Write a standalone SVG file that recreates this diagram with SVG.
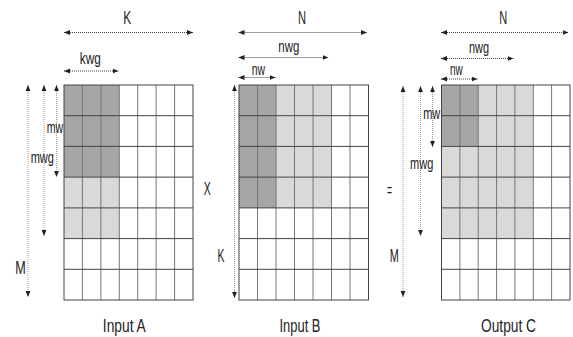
<svg xmlns="http://www.w3.org/2000/svg" width="573" height="337" viewBox="0 0 573 337">
  <defs>
    <marker id="ah" viewBox="0 0 6 6" refX="6" refY="3" markerWidth="6" markerHeight="6" markerUnits="userSpaceOnUse" orient="auto-start-reverse">
      <path d="M0,0.6 L6,3 L0,5.4 z" fill="#222"/>
    </marker>
    <style>
      .bg { fill: #ffffff; }
      .dark { fill: #a6a6a6; }
      .light { fill: #d9d9d9; }
      .hgrid { stroke: #444; stroke-width: 1; fill: none; }
      .vgrid { stroke: #777; stroke-width: 1; fill: none; }
      .dimh { stroke: #444; stroke-width: 1; stroke-dasharray: 1 1; fill: none; marker-start: url(#ah); marker-end: url(#ah); }
      .dimv { stroke: #999; stroke-width: 1; stroke-dasharray: 1 1; fill: none; marker-start: url(#ah); marker-end: url(#ah); }
      text { font-family: "Liberation Sans", Arial, sans-serif; fill: #222; text-anchor: middle; }
      .big { font-size: 18px; }
      .small { font-size: 17px; }
      .cap { font-size: 18px; }
    </style>
  </defs>
  <rect width="573" height="337" fill="#ffffff"/>

  <!-- Matrix A: 7 x 7 tiles, work-group block shaded -->
  <g id="matrix-a">
    <rect class="bg" x="64" y="85" width="129" height="215"/>
    <rect class="dark" x="64" y="85" width="55.3" height="92.1"/>
    <rect class="light" x="64" y="177.1" width="55.3" height="61.5"/>
    <path class="vgrid" d="M82.4,85V300M100.9,85V300M119.3,85V300M137.7,85V300M156.1,85V300M174.6,85V300"/>
    <path class="hgrid" d="M64,115.7H193M64,146.4H193M64,177.1H193M64,207.9H193M64,238.6H193M64,269.3H193"/>
    <rect x="64" y="85" width="129" height="215" fill="none" stroke="#444" stroke-width="1"/>
    <text class="cap" x="124.3" y="331.5" textLength="43" lengthAdjust="spacingAndGlyphs">Input A</text>
  </g>

  <!-- Matrix B -->
  <g id="matrix-b">
    <rect class="bg" x="239" y="85" width="129.5" height="215"/>
    <rect class="dark" x="239" y="85" width="37" height="122.9"/>
    <rect class="light" x="276" y="85" width="55.5" height="122.9"/>
    <path class="vgrid" d="M257.5,85V300M276,85V300M294.5,85V300M313,85V300M331.5,85V300M350,85V300"/>
    <path class="hgrid" d="M239,115.7H368.5M239,146.4H368.5M239,177.1H368.5M239,207.9H368.5M239,238.6H368.5M239,269.3H368.5"/>
    <rect x="239" y="85" width="129.5" height="215" fill="none" stroke="#444" stroke-width="1"/>
    <text class="cap" x="300" y="331.5" textLength="41" lengthAdjust="spacingAndGlyphs">Input B</text>
  </g>

  <!-- Matrix C -->
  <g id="matrix-c">
    <rect class="bg" x="441.5" y="85" width="128.5" height="215"/>
    <rect class="light" x="441.5" y="85" width="91.8" height="153.6"/>
    <rect class="dark" x="441.5" y="85" width="36.7" height="61.4"/>
    <path class="vgrid" d="M459.9,85V300M478.2,85V300M496.6,85V300M514.9,85V300M533.3,85V300M551.6,85V300"/>
    <path class="hgrid" d="M441.5,115.7H570M441.5,146.4H570M441.5,177.1H570M441.5,207.9H570M441.5,238.6H570M441.5,269.3H570"/>
    <rect x="441.5" y="85" width="128.5" height="215" fill="none" stroke="#444" stroke-width="1"/>
    <text class="cap" x="508.5" y="331.5" textLength="55" lengthAdjust="spacingAndGlyphs">Output C</text>
  </g>

  <!-- Operators -->
  <g id="op-times">
    <text class="big" x="207.3" y="195" textLength="7" lengthAdjust="spacingAndGlyphs">X</text>
  </g>
  <g id="op-equals">
    <text class="big" x="389.5" y="196" textLength="5" lengthAdjust="spacingAndGlyphs">=</text>
  </g>

  <!-- Dimension arrows -->
  <g id="connectors">
    <!-- A -->
    <line class="dimh" x1="64" y1="32.5" x2="193" y2="32.5"/>
    <line class="dimh" x1="64" y1="71" x2="118.5" y2="71"/>
    <line class="dimv" x1="28" y1="85" x2="28" y2="297"/>
    <line class="dimv" x1="44" y1="85" x2="44" y2="236"/>
    <line class="dimv" x1="56.5" y1="85" x2="56.5" y2="177"/>
    <!-- B -->
    <line class="dimh" x1="238.5" y1="32.5" x2="367" y2="32.5"/>
    <line class="dimh" x1="238.5" y1="57.5" x2="328.5" y2="57.5"/>
    <line class="dimh" x1="238.5" y1="77.5" x2="275.5" y2="77.5"/>
    <line class="dimv" x1="234.5" y1="85" x2="234.5" y2="298"/>
    <!-- C -->
    <line class="dimh" x1="441" y1="32.5" x2="568.5" y2="32.5"/>
    <line class="dimh" x1="441" y1="58.5" x2="513.5" y2="58.5"/>
    <line class="dimh" x1="441" y1="79" x2="477.5" y2="79"/>
    <line class="dimv" x1="403" y1="86" x2="403" y2="297"/>
    <line class="dimv" x1="420.5" y1="86" x2="420.5" y2="236"/>
    <line class="dimv" x1="432.5" y1="86" x2="432.5" y2="147"/>
  </g>

  <!-- Dimension labels -->
  <g id="labels-a">
    <text class="big" x="127.3" y="23.5" textLength="8" lengthAdjust="spacingAndGlyphs">K</text>
    <text class="small" x="90.3" y="63.5" textLength="21" lengthAdjust="spacingAndGlyphs">kwg</text>
    <text class="small" x="55" y="133.3" textLength="16.5" lengthAdjust="spacingAndGlyphs">mw</text>
    <text class="small" x="42.3" y="163.3" textLength="23.3" lengthAdjust="spacingAndGlyphs">mwg</text>
    <text class="big" x="20.5" y="274" textLength="10.5" lengthAdjust="spacingAndGlyphs">M</text>
  </g>
  <g id="labels-b">
    <text class="big" x="302" y="23.5" textLength="8" lengthAdjust="spacingAndGlyphs">N</text>
    <text class="small" x="288.8" y="52" textLength="21" lengthAdjust="spacingAndGlyphs">nwg</text>
    <text class="small" x="258.3" y="75" textLength="13.3" lengthAdjust="spacingAndGlyphs">nw</text>
    <text class="big" x="221" y="262" textLength="7" lengthAdjust="spacingAndGlyphs">K</text>
  </g>
  <g id="labels-c">
    <text class="big" x="503.3" y="23.5" textLength="8" lengthAdjust="spacingAndGlyphs">N</text>
    <text class="small" x="479" y="53" textLength="20" lengthAdjust="spacingAndGlyphs">nwg</text>
    <text class="small" x="456.3" y="75" textLength="12.7" lengthAdjust="spacingAndGlyphs">nw</text>
    <text class="small" x="431.7" y="118.5" textLength="17" lengthAdjust="spacingAndGlyphs">mw</text>
    <text class="small" x="421.7" y="168.5" textLength="23.3" lengthAdjust="spacingAndGlyphs">mwg</text>
    <text class="big" x="394.2" y="262" textLength="9" lengthAdjust="spacingAndGlyphs">M</text>
  </g>
</svg>
